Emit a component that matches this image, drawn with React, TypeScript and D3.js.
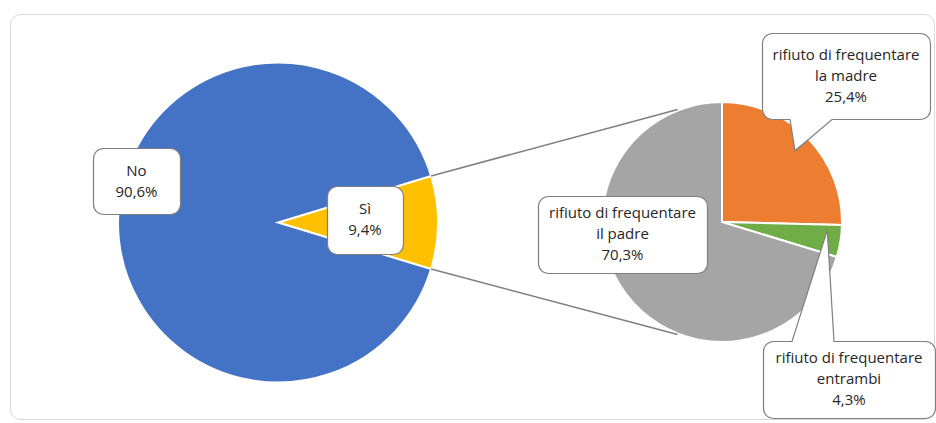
import React, { useRef, useEffect } from 'react';
import * as d3 from 'd3';

// --- Data ---
const mainCategories = ['Sì', 'No'];
const mainValues = [9.4, 90.6];
const mainColors = ['#FFC000', '#4472C4'];

const subCategories = ['la madre', 'entrambi', 'il padre'];
const subPrefix = 'rifiuto di frequentare';
const subValues = [25.4, 4.3, 70.3];
const subColors = ['#ED7D31', '#70AD47', '#A5A5A5'];

const fmt = (v: number) => v.toFixed(1).replace('.', ',') + '%';

const W = 936;
const H = 423;

// rounded box with optional pointer ('top' | 'bottom')
function calloutPath(x0: number, y0: number, x1: number, y1: number, r: number,
  ptr?: { side: string; a: number; b: number; tx: number; ty: number }) {
  const p = d3.path();
  p.moveTo(x0 + r, y0);
  if (ptr && ptr.side === 'top') {
    p.lineTo(ptr.a, y0); p.lineTo(ptr.tx, ptr.ty); p.lineTo(ptr.b, y0);
  }
  p.lineTo(x1 - r, y0);
  p.arcTo(x1, y0, x1, y0 + r, r);
  p.lineTo(x1, y1 - r);
  p.arcTo(x1, y1, x1 - r, y1, r);
  if (ptr && ptr.side === 'bottom') {
    p.lineTo(ptr.b, y1); p.lineTo(ptr.tx, ptr.ty); p.lineTo(ptr.a, y1);
  }
  p.lineTo(x0 + r, y1);
  p.arcTo(x0, y1, x0, y1 - r, r);
  p.lineTo(x0, y0 + r);
  p.arcTo(x0, y0, x0 + r, y0, r);
  p.closePath();
  return p.toString();
}

const App = () => {
  const svgRef = useRef<SVGSVGElement>(null);

  useEffect(() => {
    const svg = d3.select(svgRef.current).html('');

    // outer frame
    svg.append('rect')
      .attr('x', 10.5).attr('y', 14.5)
      .attr('width', 924).attr('height', 405)
      .attr('rx', 10)
      .attr('fill', '#fff')
      .attr('stroke', '#d9d9d9');

    // --- Main pie ---
    const mc = { x: 278, y: 222.5 };
    const R = 160;
    const half = Math.PI * mainValues[0] / 100;
    const mainPie = d3.pie<number>().sort(null)
      .startAngle(Math.PI / 2 - half)
      .endAngle(Math.PI / 2 - half + 2 * Math.PI);
    const mainArcs = mainPie(mainValues);
    const mainArc = d3.arc<d3.PieArcDatum<number>>().innerRadius(0).outerRadius(R);

    const gm = svg.append('g').attr('transform', `translate(${mc.x},${mc.y})`);
    gm.selectAll('path').data(mainArcs).enter().append('path')
      .attr('d', mainArc)
      .attr('fill', (_d, i) => mainColors[i])
      .attr('stroke', '#fff').attr('stroke-width', 2);

    // --- Secondary pie ---
    const sc = { x: 722, y: 222 };
    const r = 120;
    const subPie = d3.pie<number>().sort(null);
    const subArcs = subPie(subValues);
    const subArc = d3.arc<d3.PieArcDatum<number>>().innerRadius(0).outerRadius(r);
    const gs = svg.append('g').attr('transform', `translate(${sc.x},${sc.y})`);
    gs.selectAll('path').data(subArcs).enter().append('path')
      .attr('d', subArc)
      .attr('fill', (_d, i) => subColors[i])
      .attr('stroke', '#fff').attr('stroke-width', 2);

    // --- Connector lines ---
    const polar = (c: { x: number; y: number }, rad: number, a: number) =>
      [c.x + rad * Math.sin(a), c.y - rad * Math.cos(a)];
    const sia = mainArcs[0];
    const tAng = (21.5 * Math.PI) / 180;
    const conns = [
      [polar(mc, R, sia.startAngle), polar(sc, r + 1, -tAng)],
      [polar(mc, R, sia.endAngle), polar(sc, r + 1, Math.PI + tAng)],
    ];
    svg.selectAll('line.conn').data(conns).enter().append('line')
      .attr('class', 'conn')
      .attr('x1', d => d[0][0]).attr('y1', d => d[0][1])
      .attr('x2', d => d[1][0]).attr('y2', d => d[1][1])
      .attr('stroke', '#7f7f7f').attr('stroke-width', 1.5);

    // --- Labels ---
    const lh = 21;
    const drawLabel = (lines: string[], cx: number, cy: number, w: number, h: number, ptr?: any) => {
      const x0 = Math.round(cx - w / 2) + 0.5, x1 = Math.round(cx + w / 2) + 0.5;
      const y0 = Math.round(cy - h / 2) + 0.5, y1 = Math.round(cy + h / 2) + 0.5;
      svg.append('path')
        .attr('d', calloutPath(x0, y0, x1, y1, 10, ptr))
        .attr('fill', '#fff')
        .attr('stroke', '#7f7f7f').attr('stroke-width', 1.2);
      const t = svg.append('text')
        .attr('text-anchor', 'middle')
        .attr('font-family', '"Open Sans", sans-serif')
        .attr('font-size', 15)
        .attr('fill', '#262626');
      lines.forEach((ln, i) => {
        t.append('tspan')
          .attr('x', cx)
          .attr('y', cy + (i - (lines.length - 1) / 2) * lh)
          .attr('dy', '0.35em')
          .text(ln);
      });
    };

    drawLabel([mainCategories[1], fmt(mainValues[1])], 136.5, 181, 87, 66);
    drawLabel([mainCategories[0], fmt(mainValues[0])], 365, 219.5, 76, 68);

    drawLabel([subPrefix, subCategories[2], fmt(subValues[2])], 622.5, 234, 169, 77);

    const tip = (k: number, frac: number, rf: number) => {
      const a = subArcs[k].startAngle + (subArcs[k].endAngle - subArcs[k].startAngle) * frac;
      return polar(sc, r * rf, a);
    };
    const t0 = tip(0, 0.5, 0.85);
    drawLabel([subPrefix, subCategories[0], fmt(subValues[0])], 846, 75.5, 168, 86,
      { side: 'bottom', a: 790, b: 832, tx: t0[0], ty: t0[1] });
    const t1 = tip(1, 0.2, 0.88);
    drawLabel([subPrefix, subCategories[1], fmt(subValues[1])], 849, 379, 172, 77,
      { side: 'top', a: 792, b: 834, tx: t1[0], ty: t1[1] });
  }, []);

  return (
    <svg ref={svgRef} width={W} height={H}
      style={{ position: 'absolute', left: 0, top: 0, background: '#fff' }} />
  );
};

export default App;
